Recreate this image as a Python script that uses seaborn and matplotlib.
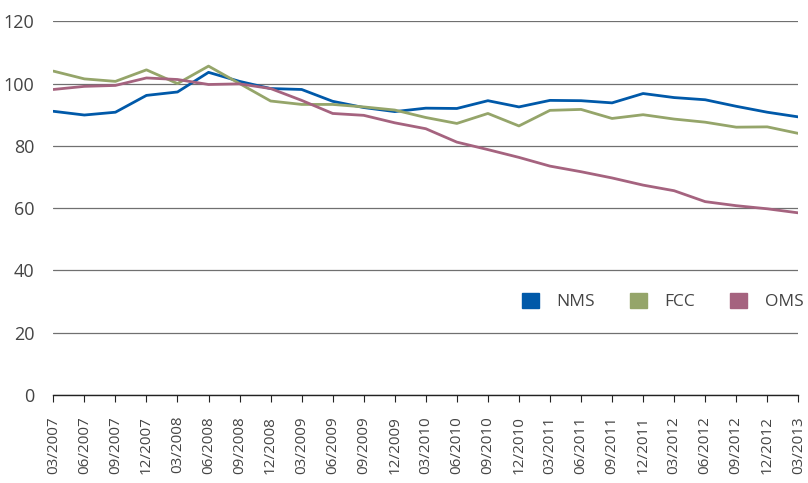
import pandas as pd
import matplotlib.pyplot as plt
import seaborn as sns
from matplotlib.patches import Patch

quarters = ["03/2007", "06/2007", "09/2007", "12/2007", "03/2008", "06/2008", "09/2008",
            "12/2008", "03/2009", "06/2009", "09/2009", "12/2009", "03/2010", "06/2010",
            "09/2010", "12/2010", "03/2011", "06/2011", "09/2011", "12/2011", "03/2012",
            "06/2012", "09/2012", "12/2012", "03/2013"]
nms = [91.1, 89.9, 90.8, 96.2, 97.3, 103.6, 100.7, 98.4, 98.1, 94.3, 92.3, 91.0, 92.1,
       92.0, 94.5, 92.5, 94.6, 94.5, 93.8, 96.8, 95.5, 94.8, 92.7, 90.8, 89.3]
fcc = [104.0, 101.5, 100.7, 104.4, 100.0, 105.6, 100.0, 94.4, 93.3, 93.3, 92.5, 91.5, 89.1,
       87.2, 90.4, 86.4, 91.4, 91.7, 88.8, 90.0, 88.6, 87.6, 86.0, 86.1, 84.0]
oms = [98.1, 99.1, 99.4, 101.8, 101.3, 99.7, 99.9, 98.4, 94.6, 90.4, 89.8, 87.4, 85.5,
       81.2, 78.8, 76.3, 73.5, 71.7, 69.7, 67.4, 65.6, 62.1, 60.8, 59.8, 58.5]
series_names = ["NMS", "FCC", "OMS"]
series_colors = ["#0059a9", "#95a56a", "#a5637f"]

df = pd.DataFrame({"pos": range(len(quarters)), "NMS": nms, "FCC": fcc, "OMS": oms})
df_long = df.melt(id_vars="pos", var_name="series", value_name="value")

sns.set_style("white")
plt.rcParams['font.family'] = ['Open Sans', 'DejaVu Sans']

fig, ax = plt.subplots(figsize=(8.08, 4.83), dpi=100)
plt.subplots_adjust(left=0.066, right=0.988, bottom=0.182, top=0.956)

sns.lineplot(data=df_long, x="pos", y="value", hue="series", hue_order=series_names,
             palette=series_colors, linewidth=2.0, legend=False, ax=ax)

ax.set_xlim(0, len(quarters) - 1)
ax.set_ylim(0, 120)
ax.set_yticks(range(0, 121, 20))
ax.set_xticks(range(len(quarters)))
ax.set_xticklabels(quarters, rotation=90)
ax.set_xlabel("")
ax.set_ylabel("")

ax.yaxis.grid(True, color="#707070", linewidth=0.9)
ax.set_axisbelow(True)
for s in ["top", "right", "left"]:
    ax.spines[s].set_visible(False)
ax.spines["bottom"].set_color("#222222")
ax.spines["bottom"].set_linewidth(1.0)

ax.tick_params(axis="x", bottom=True, direction="out", length=5, width=0.8,
               color="#222222", labelsize=11, labelcolor="#444444", pad=10)
ax.tick_params(axis="y", left=False, labelsize=13, labelcolor="#444444", pad=10)

handles = [Patch(facecolor=c, edgecolor=c, label=n) for n, c in zip(series_names, series_colors)]
ax.legend(handles=handles, loc="center right", bbox_to_anchor=(1.028, 0.25), ncol=3,
          frameon=False, fontsize=12.5, handlelength=1.0, handleheight=1.0,
          handletextpad=1.0, columnspacing=2.0, labelcolor="#444444")

plt.savefig("out.png")
